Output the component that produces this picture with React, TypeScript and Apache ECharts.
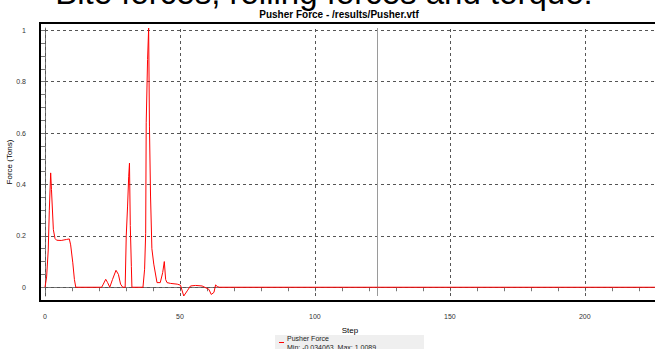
import React, { useEffect, useRef } from 'react';
import * as echarts from 'echarts';

const chartTitle = 'Bite forces, rolling forces and torque:';
const plotTitle = 'Pusher Force - /results/Pusher.vtf';
const seriesName = 'Pusher Force';
const legendStats = 'Min: -0.034063, Max: 1.0089';
const xName = 'Step';
const yName = 'Force (Tons)';

const steps = [0, 0.6, 1.2, 1.6, 2.1, 2.4, 3.1, 3.7, 4.3, 6, 8, 9, 9.5, 10.3, 10.9, 11.4, 21, 21.6, 22.5, 23.2, 24, 25, 26.3, 27.2, 28, 28.8, 29.7, 30.1, 30.6, 31.0, 31.3, 31.6, 32.0, 32.2, 36.3, 36.9, 37.3, 37.5, 38.0, 38.4, 38.7, 39.1, 39.6, 40.3, 41.5, 42.7, 43.6, 44.2, 44.7, 45.2, 46.5, 49, 50.2, 51.4, 52.7, 53.9, 55.8, 58.2, 60.7, 61.6, 62.6, 63.2, 63.8, 64.5, 230];
const force = [0, 0.04, 0.145, 0.3, 0.445, 0.38, 0.224, 0.19, 0.183, 0.182, 0.186, 0.188, 0.165, 0.095, 0.03, 0, 0, 0.012, 0.031, 0.018, 0, 0.03, 0.066, 0.05, 0.012, 0, 0, 0.2, 0.316, 0.43, 0.483, 0.24, 0.08, 0, 0, 0.07, 0.21, 0.64, 0.886, 1.0089, 0.624, 0.355, 0.15, 0.09, 0.018, 0.018, 0.057, 0.1, 0.03, 0.018, 0.015, 0.012, 0.008, -0.034063, -0.014, 0.005, 0.007, 0.005, -0.008, -0.028, -0.02, 0.009, 0.003, 0, 0];

const xMin = 0;
const xMax = 226;
const yMin = -0.034063;
const yMax = 1.0089;

const xTickLabels = [0, 50, 100, 150, 200];
const xMinorTicks = [0, 10, 20, 30, 40, 50, 60, 70, 80, 90, 100, 110, 120, 130, 140, 150, 160, 170, 180, 190, 200, 210, 220];
const yTickLabels = [0, 0.2, 0.4, 0.6, 0.8, 1];
const yMinorTicks = [0, 0.05, 0.1, 0.15, 0.2, 0.25, 0.3, 0.35, 0.4, 0.45, 0.5, 0.55, 0.6, 0.65, 0.7, 0.75, 0.8, 0.85, 0.9, 0.95, 1];
const cursorStep = 123;

const FONT = '"Liberation Sans", Arial, sans-serif';

export default function App() {
  const ref = useRef<HTMLDivElement>(null);
  useEffect(() => {
    if (!ref.current) return;
    const chart = echarts.init(ref.current, null, { renderer: 'svg' });
    const data = steps.map((s, i) => [s, force[i]]);
    const isLabel = (arr: number[], v: number) => arr.some((a) => Math.abs(a - v) < 1e-6);
    const gridStyle = { color: '#555', width: 1, type: [3, 3] as any };
    chart.setOption({
      animation: false,
      textStyle: { fontFamily: FONT },
      grid: { left: 45, right: 0, top: 28, bottom: 53, containLabel: false, outerBoundsMode: 'none' },
      xAxis: {
        type: 'value', min: xMin, max: xMax, splitNumber: 22, offset: 8,
        axisLine: { show: true, lineStyle: { color: '#777', width: 1 } },
        axisTick: { show: true, length: 4, customValues: xMinorTicks, lineStyle: { color: '#777' } },
        axisLabel: {
          customValues: xTickLabels, fontSize: 7, color: '#333', margin: 9, fontFamily: FONT,
          formatter: (v: number) => (isLabel(xTickLabels, v) ? String(Math.round(v)) : ''),
        },
        splitLine: { show: false },
        name: xName, nameLocation: 'middle', nameGap: 22, nameMoveOverlap: false,
        nameTextStyle: { fontSize: 8, color: '#000', fontFamily: FONT },
      },
      yAxis: {
        type: 'value', min: yMin, max: yMax, splitNumber: 20, offset: 9,
        axisLine: { show: true, lineStyle: { color: '#777', width: 1 } },
        axisTick: { show: true, length: 5, customValues: yMinorTicks, lineStyle: { color: '#777' } },
        axisLabel: {
          customValues: yTickLabels, fontSize: 7, color: '#333', margin: 10, fontFamily: FONT,
          formatter: (v: number) => (isLabel(yTickLabels, v) ? String(+v.toFixed(2)) : ''),
        },
        splitLine: { show: false },
        name: yName, nameLocation: 'middle', nameGap: 23, nameMoveOverlap: false,
        nameTextStyle: { fontSize: 8, color: '#000', fontFamily: FONT },
      },
      series: [
        {
          type: 'line', name: 'grid', data, z: 1, silent: true, showSymbol: false,
          lineStyle: { opacity: 0 },
          markLine: {
            z: 1, silent: true, symbol: 'none', animation: false,
            label: { show: false },
            lineStyle: gridStyle,
            data: [
              ...yTickLabels.map((v) => ({ yAxis: v })),
              ...xTickLabels.map((v) => ({ xAxis: v })),
              { xAxis: cursorStep, lineStyle: { color: '#9a9a9a', width: 1, type: 'solid' } },
            ],
          },
        },
        {
          type: 'line', name: seriesName, data, z: 10, showSymbol: false, symbol: 'none',
          lineStyle: { color: '#ff0000', width: 1 },
          clip: true,
        },
      ],
      graphic: [
        {
          type: 'text', x: 324, y: -8, z: 20,
          style: { text: chartTitle, fill: '#000', font: `33px ${FONT}`, textAlign: 'center', textVerticalAlign: 'middle' },
        },
        {
          type: 'text', x: 339, y: 14, z: 21,
          style: { text: plotTitle, fill: '#000', font: `bold 10px ${FONT}`, textAlign: 'center', textVerticalAlign: 'middle' },
        },
        {
          type: 'rect', z: 15, silent: true,
          shape: { x: 40, y: 23, width: 640, height: 278 },
          style: { fill: 'none', stroke: '#000', lineWidth: 2 },
        },
        {
          type: 'rect', z: 15,
          shape: { x: 275, y: 335, width: 149, height: 20 },
          style: { fill: '#efefef' },
        },
        {
          type: 'line', z: 16,
          shape: { x1: 279, y1: 342.5, x2: 284, y2: 342.5 },
          style: { stroke: '#ff0000', lineWidth: 1 },
        },
        {
          type: 'text', x: 287, y: 338.5, z: 16,
          style: { text: seriesName, fill: '#222', font: `7px ${FONT}`, textVerticalAlign: 'middle' },
        },
        {
          type: 'text', x: 287, y: 347, z: 16,
          style: { text: legendStats, fill: '#222', font: `7px ${FONT}`, textVerticalAlign: 'middle' },
        },
      ],
    });
    return () => chart.dispose();
  }, []);
  return <div ref={ref} style={{ position: 'fixed', left: 0, top: 0, width: 655, height: 349, background: '#fff' }} />;
}
